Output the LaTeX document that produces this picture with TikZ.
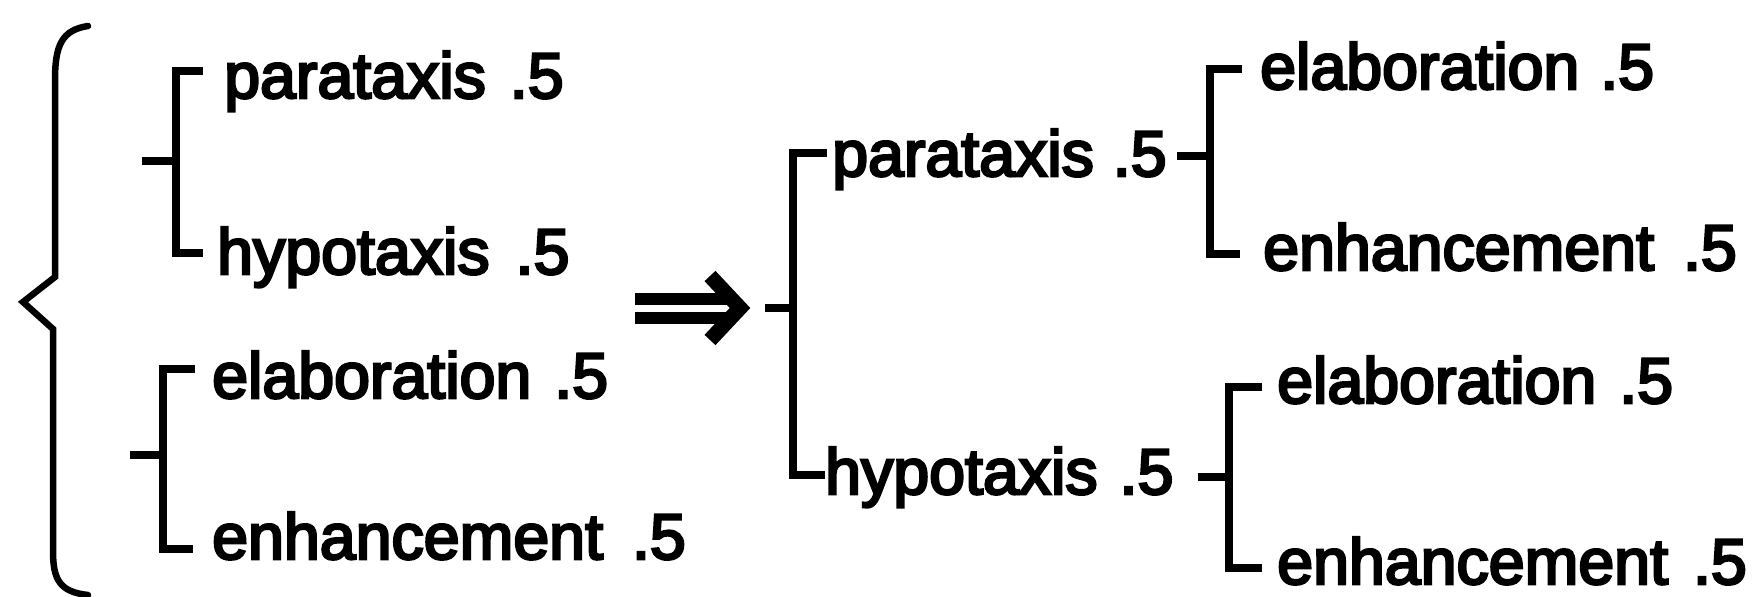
\documentclass[tikz,border=0pt]{standalone}
\usepackage{fontspec}
\setmainfont{Liberation Sans}[FakeBold=4]
\newcommand\labfont{\fontsize{64.5}{70}\selectfont}
\newcommand\setsp[1]{\spaceskip=#1pt\relax}
\newcommand\bracketree[7]{%
  \draw[tree] (#1,#2) -- (#3,#2);
  \draw[tree] (#6,#4) -- (#3,#4) -- (#3,#5) -- (#7,#5);}
\begin{document}
\begin{tikzpicture}[x=1pt,y=-1pt,
  lab/.style={anchor=base west,inner sep=0pt,font=\labfont},
  tree/.style={line width=7.5pt,line cap=butt,line join=miter},
  brace/.style={line width=6.5pt,line join=miter,line cap=round},
  shaft/.style={line width=11.5pt}]
\useasboundingbox (0,0) rectangle (1754,597);
% texts
\node[lab] (Lpara) at (224,98) {\setsp{24}parataxis .5};
\node[lab] (Lhypo) at (217,274) {\setsp{26}hypotaxis .5};
\node[lab] (Lelab) at (212,398) {\setsp{23}elaboration .5};
\node[lab] (Lenh)  at (212,559) {\setsp{29}enhancement .5};
\node[lab] (Mpara) at (832,176) {\setsp{19}parataxis .5};
\node[lab] (Mhypo) at (825,494) {\setsp{22}hypotaxis .5};
\node[lab] (Relab1) at (1260,89) {\setsp{21}elaboration .5};
\node[lab] (Renh1)  at (1263,270) {\setsp{29}enhancement .5};
\node[lab] (Relab2) at (1277,403) {\setsp{23}elaboration .5};
\node[lab] (Renh2)  at (1277,584) {\setsp{25}enhancement .5};
% brace
\draw[brace] (88,26) .. controls (62,30) and (55,45) .. (55,80)
  -- (55,277) -- (23,302) -- (53,329) -- (53,551)
  .. controls (53,580) and (60,592) .. (88,595);
% trees
\bracketree{142}{161}{176}{71}{253}{203}{203}
\bracketree{130}{455}{163}{369}{549}{195}{193}
\bracketree{765}{308}{793}{153}{475}{827}{825}
\bracketree{1177}{156}{1210}{69}{254}{1242}{1240}
\bracketree{1198}{477}{1229}{387}{568}{1262}{1262}
% double arrow
\draw[shaft] (635,299) -- (733,299);
\draw[shaft] (635,318) -- (733,318);
\draw[line width=15pt,line join=miter] (710,276) -- (740,308) -- (710,340);
\end{tikzpicture}
\end{document}
